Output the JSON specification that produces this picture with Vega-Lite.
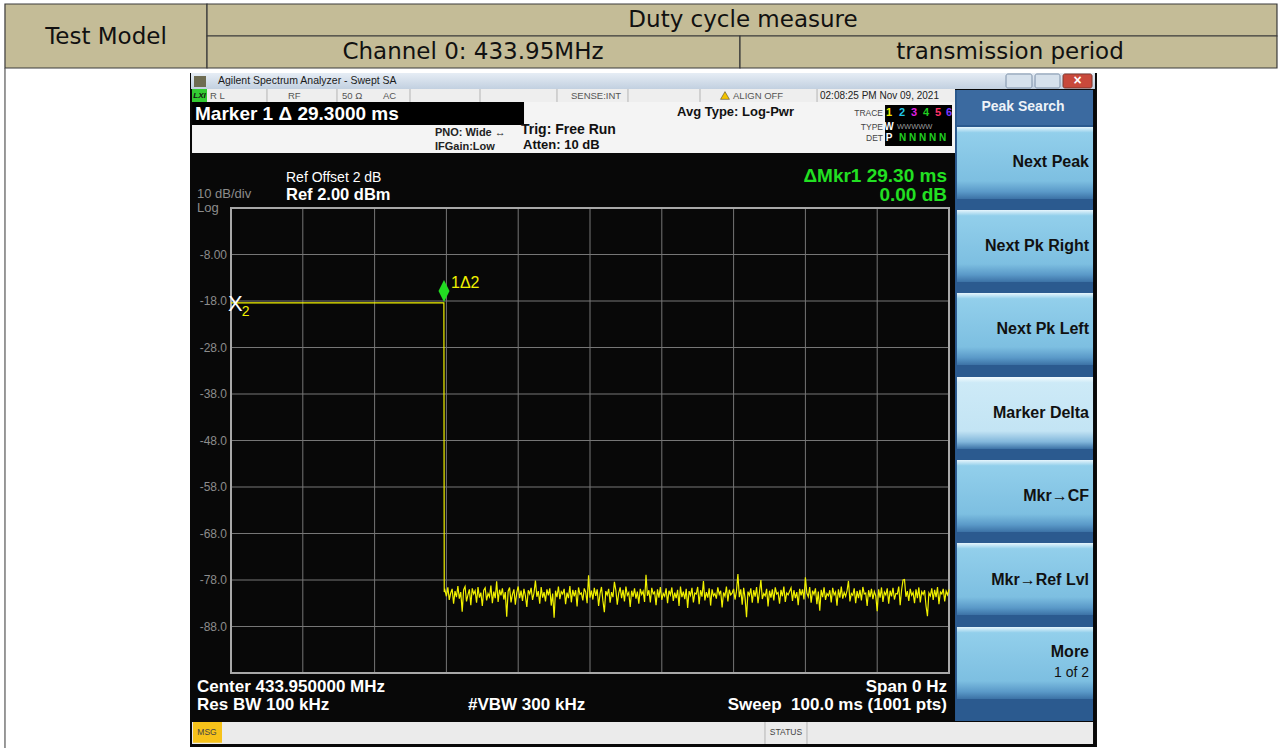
{
"$schema": "https://vega.github.io/schema/vega-lite/v6.json",
"width": 718, "height": 465,
"autosize": {"type": "none"},
"padding": {"left": 231, "top": 208, "right": 331, "bottom": 75},
"background": "#ffffff",
"data": {"values": [{"k": 1}]},
"config": {"view": {"stroke": null}, "text": {"font": "Liberation Sans"}, "axis": {"labelFont": "Liberation Sans"}},
"layer": [
{"mark": {"type": "rect", "fill": "#c4bc97", "stroke": "#3a3a3a", "strokeWidth": 1.2}, "encoding": {"x": {"datum": -31.48, "axis": null}, "x2": {"datum": -3.34}, "y": {"datum": 45.87, "axis": null}, "y2": {"datum": 32.11}}},
{"mark": {"type": "rect", "fill": "#c4bc97", "stroke": "#3a3a3a", "strokeWidth": 1.2}, "encoding": {"x": {"datum": -3.34, "axis": null}, "x2": {"datum": 145.68}, "y": {"datum": 45.87, "axis": null}, "y2": {"datum": 38.99}}},
{"mark": {"type": "rect", "fill": "#c4bc97", "stroke": "#3a3a3a", "strokeWidth": 1.2}, "encoding": {"x": {"datum": -3.34, "axis": null}, "x2": {"datum": 70.89}, "y": {"datum": 38.99, "axis": null}, "y2": {"datum": 32.11}}},
{"mark": {"type": "rect", "fill": "#c4bc97", "stroke": "#3a3a3a", "strokeWidth": 1.2}, "encoding": {"x": {"datum": 70.89, "axis": null}, "x2": {"datum": 145.68}, "y": {"datum": 38.99, "axis": null}, "y2": {"datum": 32.11}}},
{"mark": {"type": "rule", "color": "#555555", "strokeWidth": 1.2}, "encoding": {"x": {"datum": -31.48, "axis": null}, "y": {"datum": 32.11, "axis": null}, "y2": {"datum": -114.13}}},
{"mark": {"type": "text", "text": "Test Model", "font": "DejaVu Sans", "fontSize": 23, "color": "#111111", "align": "center", "baseline": "middle"}, "encoding": {"x": {"datum": -17.41, "axis": null}, "y": {"datum": 38.77, "axis": null}}},
{"mark": {"type": "text", "text": "Duty cycle measure", "font": "DejaVu Sans", "fontSize": 23, "color": "#111111", "align": "center", "baseline": "middle"}, "encoding": {"x": {"datum": 71.31, "axis": null}, "y": {"datum": 42.43, "axis": null}}},
{"mark": {"type": "text", "text": "Channel 0: 433.95MHz", "font": "DejaVu Sans", "fontSize": 23, "color": "#111111", "align": "center", "baseline": "middle"}, "encoding": {"x": {"datum": 33.70, "axis": null}, "y": {"datum": 35.55, "axis": null}}},
{"mark": {"type": "text", "text": "transmission period", "font": "DejaVu Sans", "fontSize": 23, "color": "#111111", "align": "center", "baseline": "middle"}, "encoding": {"x": {"datum": 108.50, "axis": null}, "y": {"datum": 35.55, "axis": null}}},

{"mark": {"type": "rect", "fill": "#080808"}, "encoding": {"x": {"datum": -5.71, "axis": null}, "x2": {"datum": 120.61}, "y": {"datum": 31.03, "axis": null}, "y2": {"datum": -113.91}}},
{"mark": {"type": "rect", "fill": {"gradient": "linear", "x1": 0, "y1": 0, "x2": 0, "y2": 1, "stops": [{"offset": 0, "color": "#e6edf5"}, {"offset": 1, "color": "#c2d0e0"}]}}, "encoding": {"x": {"datum": -5.57, "axis": null}, "x2": {"datum": 120.33}, "y": {"datum": 31.03, "axis": null}, "y2": {"datum": 27.59}}},
{"mark": {"type": "rect", "fill": "#6e6c52"}, "encoding": {"x": {"datum": -5.15, "axis": null}, "x2": {"datum": -3.48}, "y": {"datum": 30.39, "axis": null}, "y2": {"datum": 28.02}}},
{"mark": {"type": "text", "text": "Agilent Spectrum Analyzer - Swept SA", "fontSize": 10.5, "color": "#1a1a1a", "align": "left", "baseline": "middle"}, "encoding": {"x": {"datum": -1.81, "axis": null}, "y": {"datum": 29.31, "axis": null}}},
{"mark": {"type": "rect", "fill": "#d6e1ec", "stroke": "#7d90a8", "cornerRadius": 2}, "encoding": {"x": {"datum": 107.94, "axis": null}, "x2": {"datum": 111.56}, "y": {"datum": 30.82, "axis": null}, "y2": {"datum": 27.81}}},
{"mark": {"type": "rect", "fill": "#d6e1ec", "stroke": "#7d90a8", "cornerRadius": 2}, "encoding": {"x": {"datum": 111.98, "axis": null}, "x2": {"datum": 115.46}, "y": {"datum": 30.82, "axis": null}, "y2": {"datum": 27.81}}},
{"mark": {"type": "rect", "fill": "#c9493b", "stroke": "#7d3a30", "cornerRadius": 2}, "encoding": {"x": {"datum": 115.88, "axis": null}, "x2": {"datum": 119.92}, "y": {"datum": 30.82, "axis": null}, "y2": {"datum": 27.81}}},
{"mark": {"type": "text", "text": "×", "fontSize": 14, "fontWeight": "bold", "color": "#ffffff", "align": "center", "baseline": "middle"}, "encoding": {"x": {"datum": 117.9, "axis": null}, "y": {"datum": 29.3, "axis": null}}},

{"mark": {"type": "rect", "fill": "#eeeeee"}, "encoding": {"x": {"datum": -5.43, "axis": null}, "x2": {"datum": 100.84}, "y": {"datum": 27.59, "axis": null}, "y2": {"datum": 24.80}}},
{"mark": {"type": "rect", "fill": "#33cc33"}, "encoding": {"x": {"datum": -5.43, "axis": null}, "x2": {"datum": -3.34}, "y": {"datum": 27.59, "axis": null}, "y2": {"datum": 24.80}}},
{"mark": {"type": "text", "text": "LXI", "fontSize": 8, "fontWeight": "bold", "fontStyle": "italic", "color": "#111111", "align": "center", "baseline": "middle"}, "encoding": {"x": {"datum": -4.39, "axis": null}, "y": {"datum": 26.09, "axis": null}}},
{"mark": {"type": "rule", "color": "#b4b4b4"}, "encoding": {"x": {"datum": 5.01, "axis": null}, "y": {"datum": 27.59, "axis": null}, "y2": {"datum": 24.80}}},
{"mark": {"type": "rule", "color": "#b4b4b4"}, "encoding": {"x": {"datum": 14.76, "axis": null}, "y": {"datum": 27.59, "axis": null}, "y2": {"datum": 24.80}}},
{"mark": {"type": "rule", "color": "#b4b4b4"}, "encoding": {"x": {"datum": 24.93, "axis": null}, "y": {"datum": 27.59, "axis": null}, "y2": {"datum": 24.80}}},
{"mark": {"type": "rule", "color": "#b4b4b4"}, "encoding": {"x": {"datum": 34.68, "axis": null}, "y": {"datum": 27.59, "axis": null}, "y2": {"datum": 24.80}}},
{"mark": {"type": "rule", "color": "#b4b4b4"}, "encoding": {"x": {"datum": 45.40, "axis": null}, "y": {"datum": 27.59, "axis": null}, "y2": {"datum": 24.80}}},
{"mark": {"type": "rule", "color": "#b4b4b4"}, "encoding": {"x": {"datum": 55.29, "axis": null}, "y": {"datum": 27.59, "axis": null}, "y2": {"datum": 24.80}}},
{"mark": {"type": "rule", "color": "#b4b4b4"}, "encoding": {"x": {"datum": 65.32, "axis": null}, "y": {"datum": 27.59, "axis": null}, "y2": {"datum": 24.80}}},
{"mark": {"type": "rule", "color": "#b4b4b4"}, "encoding": {"x": {"datum": 81.62, "axis": null}, "y": {"datum": 27.59, "axis": null}, "y2": {"datum": 24.80}}},
{"mark": {"type": "text", "text": "R L", "fontSize": 9.5, "color": "#555555", "align": "left", "baseline": "middle"}, "encoding": {"x": {"datum": -2.92, "axis": null}, "y": {"datum": 26.09, "axis": null}}},
{"mark": {"type": "text", "text": "RF", "fontSize": 9.5, "color": "#555555", "align": "left", "baseline": "middle"}, "encoding": {"x": {"datum": 7.94, "axis": null}, "y": {"datum": 26.09, "axis": null}}},
{"mark": {"type": "text", "text": "50 Ω", "fontSize": 9.5, "color": "#555555", "align": "left", "baseline": "middle"}, "encoding": {"x": {"datum": 15.46, "axis": null}, "y": {"datum": 26.09, "axis": null}}},
{"mark": {"type": "text", "text": "AC", "fontSize": 9.5, "color": "#555555", "align": "left", "baseline": "middle"}, "encoding": {"x": {"datum": 21.17, "axis": null}, "y": {"datum": 26.09, "axis": null}}},
{"mark": {"type": "text", "text": "SENSE:INT", "fontSize": 9.5, "color": "#555555", "align": "left", "baseline": "middle"}, "encoding": {"x": {"datum": 47.35, "axis": null}, "y": {"datum": 26.09, "axis": null}}},
{"mark": {"type": "point", "shape": "triangle-up", "filled": true, "color": "#f2c200", "stroke": "#333333", "strokeWidth": 0.5, "size": 80, "opacity": 1}, "encoding": {"x": {"datum": 68.80, "axis": null}, "y": {"datum": 26.2, "axis": null}}},
{"mark": {"type": "text", "text": "ALIGN OFF", "fontSize": 9.5, "color": "#555555", "align": "left", "baseline": "middle"}, "encoding": {"x": {"datum": 69.92, "axis": null}, "y": {"datum": 26.09, "axis": null}}},
{"mark": {"type": "text", "text": "02:08:25 PM Nov 09, 2021", "fontSize": 10, "color": "#222222", "align": "left", "baseline": "middle"}, "encoding": {"x": {"datum": 82.03, "axis": null}, "y": {"datum": 26.09, "axis": null}}},

{"mark": {"type": "rect", "fill": "#f4f4f4"}, "encoding": {"x": {"datum": -5.43, "axis": null}, "x2": {"datum": 100.84}, "y": {"datum": 24.80, "axis": null}, "y2": {"datum": 13.83}}},
{"mark": {"type": "rect", "fill": "#000000"}, "encoding": {"x": {"datum": -5.43, "axis": null}, "x2": {"datum": 40.81}, "y": {"datum": 24.80, "axis": null}, "y2": {"datum": 19.85}}},
{"mark": {"type": "text", "text": "Marker 1 Δ 29.3000 ms", "fontSize": 19, "fontWeight": "bold", "color": "#ffffff", "align": "left", "baseline": "middle"}, "encoding": {"x": {"datum": -5.01, "axis": null}, "y": {"datum": 22.22, "axis": null}}},
{"mark": {"type": "text", "text": "PNO: Wide ↔", "fontSize": 11, "fontWeight": "bold", "color": "#222222", "align": "left", "baseline": "middle"}, "encoding": {"x": {"datum": 28.41, "axis": null}, "y": {"datum": 18.13, "axis": null}}},
{"mark": {"type": "text", "text": "IFGain:Low", "fontSize": 11, "fontWeight": "bold", "color": "#222222", "align": "left", "baseline": "middle"}, "encoding": {"x": {"datum": 28.41, "axis": null}, "y": {"datum": 15.12, "axis": null}}},
{"mark": {"type": "text", "text": "Trig: Free Run", "fontSize": 14, "fontWeight": "bold", "color": "#111111", "align": "left", "baseline": "middle"}, "encoding": {"x": {"datum": 40.39, "axis": null}, "y": {"datum": 18.77, "axis": null}}},
{"mark": {"type": "text", "text": "Atten: 10 dB", "fontSize": 13, "fontWeight": "bold", "color": "#111111", "align": "left", "baseline": "middle"}, "encoding": {"x": {"datum": 40.67, "axis": null}, "y": {"datum": 15.55, "axis": null}}},
{"mark": {"type": "text", "text": "Avg Type: Log-Pwr", "fontSize": 13, "fontWeight": "bold", "color": "#111111", "align": "left", "baseline": "middle"}, "encoding": {"x": {"datum": 62.12, "axis": null}, "y": {"datum": 22.65, "axis": null}}},
{"mark": {"type": "text", "text": "TRACE", "fontSize": 8.5, "color": "#444444", "align": "right", "baseline": "middle"}, "encoding": {"x": {"datum": 90.81, "axis": null}, "y": {"datum": 22.43, "axis": null}}},
{"mark": {"type": "text", "text": "TYPE", "fontSize": 8.5, "color": "#444444", "align": "right", "baseline": "middle"}, "encoding": {"x": {"datum": 90.81, "axis": null}, "y": {"datum": 19.42, "axis": null}}},
{"mark": {"type": "text", "text": "DET", "fontSize": 8.5, "color": "#444444", "align": "right", "baseline": "middle"}, "encoding": {"x": {"datum": 90.81, "axis": null}, "y": {"datum": 17.05, "axis": null}}},
{"mark": {"type": "rect", "fill": "#000000"}, "encoding": {"x": {"datum": 91.09, "axis": null}, "x2": {"datum": 100.42}, "y": {"datum": 24.15, "axis": null}, "y2": {"datum": 15.33}}},
{"mark": {"type": "text", "text": "1", "fontSize": 11, "fontWeight": "bold", "color": "#f0f000", "align": "center", "baseline": "middle"}, "encoding": {"x": {"datum": 91.64, "axis": null}, "y": {"datum": 22.43, "axis": null}}},
{"mark": {"type": "text", "text": "2", "fontSize": 11, "fontWeight": "bold", "color": "#20c8e8", "align": "center", "baseline": "middle"}, "encoding": {"x": {"datum": 93.45, "axis": null}, "y": {"datum": 22.43, "axis": null}}},
{"mark": {"type": "text", "text": "3", "fontSize": 11, "fontWeight": "bold", "color": "#e020e0", "align": "center", "baseline": "middle"}, "encoding": {"x": {"datum": 95.13, "axis": null}, "y": {"datum": 22.43, "axis": null}}},
{"mark": {"type": "text", "text": "4", "fontSize": 11, "fontWeight": "bold", "color": "#20d020", "align": "center", "baseline": "middle"}, "encoding": {"x": {"datum": 96.80, "axis": null}, "y": {"datum": 22.43, "axis": null}}},
{"mark": {"type": "text", "text": "5", "fontSize": 11, "fontWeight": "bold", "color": "#ff3366", "align": "center", "baseline": "middle"}, "encoding": {"x": {"datum": 98.47, "axis": null}, "y": {"datum": 22.43, "axis": null}}},
{"mark": {"type": "text", "text": "6", "fontSize": 11, "fontWeight": "bold", "color": "#7a3cff", "align": "center", "baseline": "middle"}, "encoding": {"x": {"datum": 100.0, "axis": null}, "y": {"datum": 22.43, "axis": null}}},
{"mark": {"type": "text", "text": "W", "fontSize": 10, "fontWeight": "bold", "color": "#ffffff", "align": "center", "baseline": "middle"}, "encoding": {"x": {"datum": 91.64, "axis": null}, "y": {"datum": 19.42, "axis": null}}},
{"mark": {"type": "text", "text": "WWWWW", "fontSize": 7.5, "color": "#9a9a9a", "align": "left", "baseline": "middle"}, "encoding": {"x": {"datum": 92.76, "axis": null}, "y": {"datum": 19.42, "axis": null}}},
{"mark": {"type": "text", "text": "P", "fontSize": 10, "fontWeight": "bold", "color": "#ffffff", "align": "center", "baseline": "middle"}, "encoding": {"x": {"datum": 91.64, "axis": null}, "y": {"datum": 17.05, "axis": null}}},
{"mark": {"type": "text", "text": "N N N N N", "fontSize": 10, "fontWeight": "bold", "color": "#20d020", "align": "left", "baseline": "middle"}, "encoding": {"x": {"datum": 93.04, "axis": null}, "y": {"datum": 17.05, "axis": null}}},

{"mark": {"type": "text", "text": "Ref Offset 2 dB", "fontSize": 14, "color": "#ffffff", "align": "left", "baseline": "middle"}, "encoding": {"x": {"datum": 7.66, "axis": null}, "y": {"datum": 8.45, "axis": null}}},
{"mark": {"type": "text", "text": "Ref 2.00 dBm", "fontSize": 16.5, "fontWeight": "bold", "color": "#ffffff", "align": "left", "baseline": "middle"}, "encoding": {"x": {"datum": 7.66, "axis": null}, "y": {"datum": 4.80, "axis": null}}},
{"mark": {"type": "text", "text": "10 dB/div", "fontSize": 13, "color": "#8c8c8c", "align": "left", "baseline": "middle"}, "encoding": {"x": {"datum": -4.74, "axis": null}, "y": {"datum": 5.01, "axis": null}}},
{"mark": {"type": "text", "text": "Log", "fontSize": 13, "color": "#8c8c8c", "align": "left", "baseline": "middle"}, "encoding": {"x": {"datum": -4.74, "axis": null}, "y": {"datum": 2.0, "axis": null}}},
{"mark": {"type": "text", "text": "ΔMkr1 29.30 ms", "fontSize": 19, "fontWeight": "bold", "color": "#22e022", "align": "right", "baseline": "middle"}, "encoding": {"x": {"datum": 99.72, "axis": null}, "y": {"datum": 8.88, "axis": null}}},
{"mark": {"type": "text", "text": "0.00 dB", "fontSize": 19, "fontWeight": "bold", "color": "#22e022", "align": "right", "baseline": "middle"}, "encoding": {"x": {"datum": 99.72, "axis": null}, "y": {"datum": 4.80, "axis": null}}},
{"mark": {"type": "text", "text": "Center 433.950000 MHz", "fontSize": 17, "fontWeight": "bold", "color": "#ffffff", "align": "left", "baseline": "middle"}, "encoding": {"x": {"datum": -4.74, "axis": null}, "y": {"datum": -101.01, "axis": null}}},
{"mark": {"type": "text", "text": "Res BW 100 kHz", "fontSize": 17, "fontWeight": "bold", "color": "#ffffff", "align": "left", "baseline": "middle"}, "encoding": {"x": {"datum": -4.74, "axis": null}, "y": {"datum": -104.88, "axis": null}}},
{"mark": {"type": "text", "text": "#VBW 300 kHz", "fontSize": 17, "fontWeight": "bold", "color": "#ffffff", "align": "left", "baseline": "middle"}, "encoding": {"x": {"datum": 33.01, "axis": null}, "y": {"datum": -104.88, "axis": null}}},
{"mark": {"type": "text", "text": "Span 0 Hz", "fontSize": 17, "fontWeight": "bold", "color": "#ffffff", "align": "right", "baseline": "middle"}, "encoding": {"x": {"datum": 99.72, "axis": null}, "y": {"datum": -101.01, "axis": null}}},
{"mark": {"type": "text", "text": "Sweep\u00a0\u00a0100.0 ms (1001 pts)", "fontSize": 17, "fontWeight": "bold", "color": "#ffffff", "align": "right", "baseline": "middle"}, "encoding": {"x": {"datum": 99.72, "axis": null}, "y": {"datum": -104.88, "axis": null}}},

{"mark": {"type": "rect", "fill": "#ebebeb"}, "encoding": {"x": {"datum": -5.43, "axis": null}, "x2": {"datum": 120.06}, "y": {"datum": -108.54, "axis": null}, "y2": {"datum": -113.27}}},
{"mark": {"type": "rect", "fill": "#f6c21a"}, "encoding": {"x": {"datum": -5.29, "axis": null}, "x2": {"datum": -1.25}, "y": {"datum": -108.54, "axis": null}, "y2": {"datum": -113.0}}},
{"mark": {"type": "text", "text": "MSG", "fontSize": 8.5, "color": "#444444", "align": "center", "baseline": "middle"}, "encoding": {"x": {"datum": -3.34, "axis": null}, "y": {"datum": -110.69, "axis": null}}},
{"mark": {"type": "rule", "color": "#b4b4b4"}, "encoding": {"x": {"datum": 74.37, "axis": null}, "y": {"datum": -108.54, "axis": null}, "y2": {"datum": -113.27}}},
{"mark": {"type": "rule", "color": "#b4b4b4"}, "encoding": {"x": {"datum": 80.22, "axis": null}, "y": {"datum": -108.54, "axis": null}, "y2": {"datum": -113.27}}},
{"mark": {"type": "text", "text": "STATUS", "fontSize": 8.5, "color": "#444444", "align": "center", "baseline": "middle"}, "encoding": {"x": {"datum": 77.30, "axis": null}, "y": {"datum": -110.69, "axis": null}}},

{"mark": {"type": "rect", "fill": "#2b5a8f"}, "encoding": {"x": {"datum": 100.84, "axis": null}, "x2": {"datum": 120.06}, "y": {"datum": 27.38, "axis": null}, "y2": {"datum": -108.32}}},
{"mark": {"type": "rect", "fill": "#3b6aa0"}, "encoding": {"x": {"datum": 101.11, "axis": null}, "x2": {"datum": 120.06}, "y": {"datum": 27.38, "axis": null}, "y2": {"datum": 19.85}}},
{"mark": {"type": "text", "text": "Peak Search", "fontSize": 14, "fontWeight": "bold", "color": "#eef3f8", "align": "center", "baseline": "middle"}, "encoding": {"x": {"datum": 110.31, "axis": null}, "y": {"datum": 23.72, "axis": null}}},
{"mark": {"type": "rect", "fill": {"gradient": "linear", "x1": 0, "y1": 0, "x2": 0, "y2": 1, "stops": [{"offset": 0, "color": "#e6f5fc"}, {"offset": 0.08, "color": "#92cfeb"}, {"offset": 0.75, "color": "#7dbfe1"}, {"offset": 0.9, "color": "#5a99c8"}, {"offset": 1, "color": "#3c72a6"}]}}, "encoding": {"x": {"datum": 101.11, "axis": null}, "x2": {"datum": 120.06}, "y": {"datum": 19.42, "axis": null}, "y2": {"datum": 3.94}}},
{"mark": {"type": "rect", "fill": {"gradient": "linear", "x1": 0, "y1": 0, "x2": 0, "y2": 1, "stops": [{"offset": 0, "color": "#e6f5fc"}, {"offset": 0.08, "color": "#92cfeb"}, {"offset": 0.75, "color": "#7dbfe1"}, {"offset": 0.9, "color": "#5a99c8"}, {"offset": 1, "color": "#3c72a6"}]}}, "encoding": {"x": {"datum": 101.11, "axis": null}, "x2": {"datum": 120.06}, "y": {"datum": 1.57, "axis": null}, "y2": {"datum": -13.91}}},
{"mark": {"type": "rect", "fill": {"gradient": "linear", "x1": 0, "y1": 0, "x2": 0, "y2": 1, "stops": [{"offset": 0, "color": "#e6f5fc"}, {"offset": 0.08, "color": "#92cfeb"}, {"offset": 0.75, "color": "#7dbfe1"}, {"offset": 0.9, "color": "#5a99c8"}, {"offset": 1, "color": "#3c72a6"}]}}, "encoding": {"x": {"datum": 101.11, "axis": null}, "x2": {"datum": 120.06}, "y": {"datum": -16.28, "axis": null}, "y2": {"datum": -31.76}}},
{"mark": {"type": "rect", "fill": {"gradient": "linear", "x1": 0, "y1": 0, "x2": 0, "y2": 1, "stops": [{"offset": 0, "color": "#f2fafe"}, {"offset": 0.08, "color": "#cdeaf7"}, {"offset": 0.75, "color": "#c3e4f4"}, {"offset": 0.9, "color": "#82b7db"}, {"offset": 1, "color": "#3c72a6"}]}}, "encoding": {"x": {"datum": 101.11, "axis": null}, "x2": {"datum": 120.06}, "y": {"datum": -34.34, "axis": null}, "y2": {"datum": -49.83}}},
{"mark": {"type": "rect", "fill": {"gradient": "linear", "x1": 0, "y1": 0, "x2": 0, "y2": 1, "stops": [{"offset": 0, "color": "#e6f5fc"}, {"offset": 0.08, "color": "#92cfeb"}, {"offset": 0.75, "color": "#7dbfe1"}, {"offset": 0.9, "color": "#5a99c8"}, {"offset": 1, "color": "#3c72a6"}]}}, "encoding": {"x": {"datum": 101.11, "axis": null}, "x2": {"datum": 120.06}, "y": {"datum": -52.19, "axis": null}, "y2": {"datum": -67.68}}},
{"mark": {"type": "rect", "fill": {"gradient": "linear", "x1": 0, "y1": 0, "x2": 0, "y2": 1, "stops": [{"offset": 0, "color": "#e6f5fc"}, {"offset": 0.08, "color": "#92cfeb"}, {"offset": 0.75, "color": "#7dbfe1"}, {"offset": 0.9, "color": "#5a99c8"}, {"offset": 1, "color": "#3c72a6"}]}}, "encoding": {"x": {"datum": 101.11, "axis": null}, "x2": {"datum": 120.06}, "y": {"datum": -70.04, "axis": null}, "y2": {"datum": -85.53}}},
{"mark": {"type": "rect", "fill": {"gradient": "linear", "x1": 0, "y1": 0, "x2": 0, "y2": 1, "stops": [{"offset": 0, "color": "#e6f5fc"}, {"offset": 0.08, "color": "#92cfeb"}, {"offset": 0.75, "color": "#7dbfe1"}, {"offset": 0.9, "color": "#5a99c8"}, {"offset": 1, "color": "#3c72a6"}]}}, "encoding": {"x": {"datum": 101.11, "axis": null}, "x2": {"datum": 120.06}, "y": {"datum": -88.11, "axis": null}, "y2": {"datum": -103.59}}},
{"mark": {"type": "text", "text": "Next Peak", "fontSize": 16, "fontWeight": "bold", "color": "#111111", "align": "right", "baseline": "middle"}, "encoding": {"x": {"datum": 119.5, "axis": null}, "y": {"datum": 11.89, "axis": null}}},
{"mark": {"type": "text", "text": "Next Pk Right", "fontSize": 16, "fontWeight": "bold", "color": "#111111", "align": "right", "baseline": "middle"}, "encoding": {"x": {"datum": 119.5, "axis": null}, "y": {"datum": -6.17, "axis": null}}},
{"mark": {"type": "text", "text": "Next Pk Left", "fontSize": 16, "fontWeight": "bold", "color": "#111111", "align": "right", "baseline": "middle"}, "encoding": {"x": {"datum": 119.5, "axis": null}, "y": {"datum": -24.02, "axis": null}}},
{"mark": {"type": "text", "text": "Marker Delta", "fontSize": 16, "fontWeight": "bold", "color": "#111111", "align": "right", "baseline": "middle"}, "encoding": {"x": {"datum": 119.5, "axis": null}, "y": {"datum": -42.09, "axis": null}}},
{"mark": {"type": "text", "text": "Mkr→CF", "fontSize": 16, "fontWeight": "bold", "color": "#111111", "align": "right", "baseline": "middle"}, "encoding": {"x": {"datum": 119.5, "axis": null}, "y": {"datum": -59.94, "axis": null}}},
{"mark": {"type": "text", "text": "Mkr→Ref Lvl", "fontSize": 16, "fontWeight": "bold", "color": "#111111", "align": "right", "baseline": "middle"}, "encoding": {"x": {"datum": 119.5, "axis": null}, "y": {"datum": -78.0, "axis": null}}},
{"mark": {"type": "text", "text": "More", "fontSize": 16, "fontWeight": "bold", "color": "#111111", "align": "right", "baseline": "middle"}, "encoding": {"x": {"datum": 119.5, "axis": null}, "y": {"datum": -93.48, "axis": null}}},
{"mark": {"type": "text", "text": "1 of 2", "fontSize": 14, "color": "#111111", "align": "right", "baseline": "middle"}, "encoding": {"x": {"datum": 119.5, "axis": null}, "y": {"datum": -98.0, "axis": null}}},

{"data": {"values": [{"g": 10}, {"g": 20}, {"g": 30}, {"g": 40}, {"g": 50}, {"g": 60}, {"g": 70}, {"g": 80}, {"g": 90}]}, "mark": {"type": "rule", "color": "#767676", "strokeWidth": 1}, "encoding": {"x": {"field": "g", "type": "quantitative", "axis": null}}},
{"data": {"values": [{"g": -8}, {"g": -18}, {"g": -28}, {"g": -38}, {"g": -48}, {"g": -58}, {"g": -68}, {"g": -78}, {"g": -88}]}, "mark": {"type": "rule", "color": "#767676", "strokeWidth": 1}, "encoding": {"y": {"field": "g", "type": "quantitative", "axis": null}}},
{"data": {"values": [{"v": -8, "lab": "-8.00"}, {"v": -18, "lab": "-18.0"}, {"v": -28, "lab": "-28.0"}, {"v": -38, "lab": "-38.0"}, {"v": -48, "lab": "-48.0"}, {"v": -58, "lab": "-58.0"}, {"v": -68, "lab": "-68.0"}, {"v": -78, "lab": "-78.0"}, {"v": -88, "lab": "-88.0"}]}, "mark": {"type": "text", "fontSize": 12, "color": "#8c8c8c", "align": "right", "baseline": "middle"}, "encoding": {"x": {"datum": -0.55, "axis": null}, "y": {"field": "v", "type": "quantitative", "axis": null}, "text": {"field": "lab"}}},
{"mark": {"type": "rect", "fill": null, "stroke": "#a8a8a8", "strokeWidth": 2}, "encoding": {"x": {"datum": 0, "axis": null}, "x2": {"datum": 100}, "y": {"datum": 2, "axis": null}, "y2": {"datum": -98}}},
{"data": {"values": [
{"ms": 0, "dbm": -18.4}, {"ms": 29.65, "dbm": -18.4}, {"ms": 29.7, "dbm": -80.6},
{"ms": 29.8, "dbm": -80.2}, {"ms": 30.0, "dbm": -81.5}, {"ms": 30.2, "dbm": -79.6}, {"ms": 30.4, "dbm": -82.3}, {"ms": 30.6, "dbm": -80.8}, {"ms": 30.8, "dbm": -79.9}, {"ms": 31.0, "dbm": -83.1}, {"ms": 31.2, "dbm": -80.4}, {"ms": 31.4, "dbm": -81.7}, {"ms": 31.6, "dbm": -79.3},
{"ms": 31.8, "dbm": -82.0}, {"ms": 32.0, "dbm": -80.6}, {"ms": 32.2, "dbm": -84.8}, {"ms": 32.4, "dbm": -80.1}, {"ms": 32.6, "dbm": -79.4}, {"ms": 32.8, "dbm": -82.6}, {"ms": 33.0, "dbm": -81.2}, {"ms": 33.2, "dbm": -80.0}, {"ms": 33.4, "dbm": -83.4}, {"ms": 33.6, "dbm": -79.8},
{"ms": 33.8, "dbm": -81.0}, {"ms": 34.0, "dbm": -80.3}, {"ms": 34.2, "dbm": -82.9}, {"ms": 34.4, "dbm": -79.5}, {"ms": 34.6, "dbm": -81.8}, {"ms": 34.8, "dbm": -80.7}, {"ms": 35.0, "dbm": -83.6}, {"ms": 35.2, "dbm": -80.2}, {"ms": 35.4, "dbm": -79.7}, {"ms": 35.6, "dbm": -82.4},
{"ms": 35.8, "dbm": -80.9}, {"ms": 36.0, "dbm": -81.6}, {"ms": 36.2, "dbm": -79.2}, {"ms": 36.4, "dbm": -83.0}, {"ms": 36.6, "dbm": -80.5}, {"ms": 36.8, "dbm": -81.9}, {"ms": 37.0, "dbm": -78.3}, {"ms": 37.2, "dbm": -82.7}, {"ms": 37.4, "dbm": -80.1}, {"ms": 37.6, "dbm": -81.3},
{"ms": 37.8, "dbm": -79.8}, {"ms": 38.0, "dbm": -82.2}, {"ms": 38.2, "dbm": -80.6}, {"ms": 38.4, "dbm": -85.9}, {"ms": 38.6, "dbm": -80.4}, {"ms": 38.8, "dbm": -79.6}, {"ms": 39.0, "dbm": -82.8}, {"ms": 39.2, "dbm": -81.1}, {"ms": 39.4, "dbm": -80.0}, {"ms": 39.6, "dbm": -83.3},
{"ms": 39.8, "dbm": -80.7}, {"ms": 40.0, "dbm": -79.4}, {"ms": 40.2, "dbm": -81.9}, {"ms": 40.4, "dbm": -80.3}, {"ms": 40.6, "dbm": -82.5}, {"ms": 40.8, "dbm": -79.9}, {"ms": 41.0, "dbm": -81.4}, {"ms": 41.2, "dbm": -83.8}, {"ms": 41.4, "dbm": -80.2}, {"ms": 41.6, "dbm": -81.0},
{"ms": 41.8, "dbm": -79.7}, {"ms": 42.0, "dbm": -82.3}, {"ms": 42.2, "dbm": -80.8}, {"ms": 42.4, "dbm": -78.1}, {"ms": 42.6, "dbm": -81.6}, {"ms": 42.8, "dbm": -80.4}, {"ms": 43.0, "dbm": -83.1}, {"ms": 43.2, "dbm": -79.5}, {"ms": 43.4, "dbm": -81.8}, {"ms": 43.6, "dbm": -80.6},
{"ms": 43.8, "dbm": -82.6}, {"ms": 44.0, "dbm": -80.0}, {"ms": 44.2, "dbm": -81.3}, {"ms": 44.4, "dbm": -79.8}, {"ms": 44.6, "dbm": -83.5}, {"ms": 44.8, "dbm": -80.9}, {"ms": 45.0, "dbm": -86.1}, {"ms": 45.2, "dbm": -80.3}, {"ms": 45.4, "dbm": -81.7}, {"ms": 45.6, "dbm": -79.4},
{"ms": 45.8, "dbm": -82.1}, {"ms": 46.0, "dbm": -80.5}, {"ms": 46.2, "dbm": -81.0}, {"ms": 46.4, "dbm": -79.9}, {"ms": 46.6, "dbm": -83.2}, {"ms": 46.8, "dbm": -80.7}, {"ms": 47.0, "dbm": -81.9}, {"ms": 47.2, "dbm": -79.3}, {"ms": 47.4, "dbm": -82.8}, {"ms": 47.6, "dbm": -80.1},
{"ms": 47.8, "dbm": -81.5}, {"ms": 48.0, "dbm": -80.2}, {"ms": 48.2, "dbm": -83.7}, {"ms": 48.4, "dbm": -79.6}, {"ms": 48.6, "dbm": -81.1}, {"ms": 48.8, "dbm": -80.8}, {"ms": 49.0, "dbm": -82.4}, {"ms": 49.2, "dbm": -79.8}, {"ms": 49.4, "dbm": -80.6}, {"ms": 49.6, "dbm": -83.0},
{"ms": 49.8, "dbm": -77.0}, {"ms": 50.0, "dbm": -81.8}, {"ms": 50.2, "dbm": -80.3}, {"ms": 50.4, "dbm": -82.2}, {"ms": 50.6, "dbm": -79.7}, {"ms": 50.8, "dbm": -81.4}, {"ms": 51.0, "dbm": -80.0}, {"ms": 51.2, "dbm": -83.6}, {"ms": 51.4, "dbm": -80.9}, {"ms": 51.6, "dbm": -79.5},
{"ms": 51.8, "dbm": -82.5}, {"ms": 52.0, "dbm": -84.9}, {"ms": 52.2, "dbm": -80.4}, {"ms": 52.4, "dbm": -81.2}, {"ms": 52.6, "dbm": -79.9}, {"ms": 52.8, "dbm": -82.9}, {"ms": 53.0, "dbm": -80.6}, {"ms": 53.2, "dbm": -81.7}, {"ms": 53.4, "dbm": -78.4}, {"ms": 53.6, "dbm": -80.2},
{"ms": 53.8, "dbm": -83.3}, {"ms": 54.0, "dbm": -80.8}, {"ms": 54.2, "dbm": -79.6}, {"ms": 54.4, "dbm": -81.9}, {"ms": 54.6, "dbm": -80.1}, {"ms": 54.8, "dbm": -82.6}, {"ms": 55.0, "dbm": -79.4}, {"ms": 55.2, "dbm": -81.3}, {"ms": 55.4, "dbm": -80.7}, {"ms": 55.6, "dbm": -83.8},
{"ms": 55.8, "dbm": -80.3}, {"ms": 56.0, "dbm": -81.6}, {"ms": 56.2, "dbm": -79.8}, {"ms": 56.4, "dbm": -82.0}, {"ms": 56.6, "dbm": -80.5}, {"ms": 56.8, "dbm": -83.1}, {"ms": 57.0, "dbm": -79.9}, {"ms": 57.2, "dbm": -81.1}, {"ms": 57.4, "dbm": -80.4}, {"ms": 57.6, "dbm": -82.7},
{"ms": 57.8, "dbm": -76.9}, {"ms": 58.0, "dbm": -81.4}, {"ms": 58.2, "dbm": -80.2}, {"ms": 58.4, "dbm": -82.8}, {"ms": 58.6, "dbm": -79.7}, {"ms": 58.8, "dbm": -81.0}, {"ms": 59.0, "dbm": -80.6}, {"ms": 59.2, "dbm": -83.4}, {"ms": 59.4, "dbm": -80.0}, {"ms": 59.6, "dbm": -81.8},
{"ms": 59.8, "dbm": -79.5}, {"ms": 60.0, "dbm": -82.3}, {"ms": 60.2, "dbm": -80.9}, {"ms": 60.4, "dbm": -81.5}, {"ms": 60.6, "dbm": -79.8}, {"ms": 60.8, "dbm": -83.0}, {"ms": 61.0, "dbm": -80.3}, {"ms": 61.2, "dbm": -81.2}, {"ms": 61.4, "dbm": -79.6}, {"ms": 61.6, "dbm": -82.5},
{"ms": 61.8, "dbm": -80.7}, {"ms": 62.0, "dbm": -81.9}, {"ms": 62.2, "dbm": -80.1}, {"ms": 62.4, "dbm": -83.6}, {"ms": 62.6, "dbm": -79.4}, {"ms": 62.8, "dbm": -81.7}, {"ms": 63.0, "dbm": -80.5}, {"ms": 63.2, "dbm": -82.1}, {"ms": 63.4, "dbm": -79.9}, {"ms": 63.6, "dbm": -84.0},
{"ms": 63.8, "dbm": -80.4}, {"ms": 64.0, "dbm": -81.3}, {"ms": 64.2, "dbm": -79.7}, {"ms": 64.4, "dbm": -82.8}, {"ms": 64.6, "dbm": -80.8}, {"ms": 64.8, "dbm": -81.0}, {"ms": 65.0, "dbm": -79.5}, {"ms": 65.2, "dbm": -83.2}, {"ms": 65.4, "dbm": -80.2}, {"ms": 65.6, "dbm": -81.6},
{"ms": 65.8, "dbm": -78.2}, {"ms": 66.0, "dbm": -82.4}, {"ms": 66.2, "dbm": -80.6}, {"ms": 66.4, "dbm": -81.8}, {"ms": 66.6, "dbm": -79.8}, {"ms": 66.8, "dbm": -83.5}, {"ms": 67.0, "dbm": -80.0}, {"ms": 67.2, "dbm": -81.4}, {"ms": 67.4, "dbm": -80.9}, {"ms": 67.6, "dbm": -82.0},
{"ms": 67.8, "dbm": -79.6}, {"ms": 68.0, "dbm": -81.1}, {"ms": 68.2, "dbm": -80.3}, {"ms": 68.4, "dbm": -83.9}, {"ms": 68.6, "dbm": -80.7}, {"ms": 68.8, "dbm": -81.5}, {"ms": 69.0, "dbm": -79.4}, {"ms": 69.2, "dbm": -82.6}, {"ms": 69.4, "dbm": -80.1}, {"ms": 69.6, "dbm": -81.2},
{"ms": 69.8, "dbm": -80.8}, {"ms": 70.0, "dbm": -79.9}, {"ms": 70.2, "dbm": -82.2}, {"ms": 70.4, "dbm": -80.4}, {"ms": 70.6, "dbm": -76.7}, {"ms": 70.8, "dbm": -81.7}, {"ms": 71.0, "dbm": -80.0}, {"ms": 71.2, "dbm": -83.3}, {"ms": 71.4, "dbm": -79.7}, {"ms": 71.6, "dbm": -81.9},
{"ms": 71.8, "dbm": -86.0}, {"ms": 72.0, "dbm": -80.5}, {"ms": 72.2, "dbm": -81.3}, {"ms": 72.4, "dbm": -79.8}, {"ms": 72.6, "dbm": -82.9}, {"ms": 72.8, "dbm": -80.2}, {"ms": 73.0, "dbm": -81.6}, {"ms": 73.2, "dbm": -79.5}, {"ms": 73.4, "dbm": -83.0}, {"ms": 73.6, "dbm": -80.6},
{"ms": 73.8, "dbm": -78.0}, {"ms": 74.0, "dbm": -82.1}, {"ms": 74.2, "dbm": -80.9}, {"ms": 74.4, "dbm": -81.4}, {"ms": 74.6, "dbm": -79.9}, {"ms": 74.8, "dbm": -83.7}, {"ms": 75.0, "dbm": -80.3}, {"ms": 75.2, "dbm": -81.8}, {"ms": 75.4, "dbm": -80.0}, {"ms": 75.6, "dbm": -82.4},
{"ms": 75.8, "dbm": -79.6}, {"ms": 76.0, "dbm": -81.0}, {"ms": 76.2, "dbm": -80.7}, {"ms": 76.4, "dbm": -83.1}, {"ms": 76.6, "dbm": -80.1}, {"ms": 76.8, "dbm": -81.5}, {"ms": 77.0, "dbm": -79.4}, {"ms": 77.2, "dbm": -82.7}, {"ms": 77.4, "dbm": -80.8}, {"ms": 77.6, "dbm": -81.2},
{"ms": 77.8, "dbm": -80.4}, {"ms": 78.0, "dbm": -79.7}, {"ms": 78.2, "dbm": -82.5}, {"ms": 78.4, "dbm": -80.2}, {"ms": 78.6, "dbm": -81.9}, {"ms": 78.8, "dbm": -80.6}, {"ms": 79.0, "dbm": -83.4}, {"ms": 79.2, "dbm": -79.9}, {"ms": 79.4, "dbm": -81.3}, {"ms": 79.6, "dbm": -80.0},
{"ms": 79.8, "dbm": -82.2}, {"ms": 80.0, "dbm": -77.4}, {"ms": 80.2, "dbm": -80.8}, {"ms": 80.4, "dbm": -81.6}, {"ms": 80.6, "dbm": -79.5}, {"ms": 80.8, "dbm": -82.9}, {"ms": 81.0, "dbm": -80.3}, {"ms": 81.2, "dbm": -81.1}, {"ms": 81.4, "dbm": -79.8}, {"ms": 81.6, "dbm": -83.2},
{"ms": 81.8, "dbm": -80.5}, {"ms": 82.0, "dbm": -84.6}, {"ms": 82.2, "dbm": -80.1}, {"ms": 82.4, "dbm": -81.7}, {"ms": 82.6, "dbm": -79.6}, {"ms": 82.8, "dbm": -82.3}, {"ms": 83.0, "dbm": -80.9}, {"ms": 83.2, "dbm": -81.4}, {"ms": 83.4, "dbm": -80.2}, {"ms": 83.6, "dbm": -82.8},
{"ms": 83.8, "dbm": -79.7}, {"ms": 84.0, "dbm": -81.2}, {"ms": 84.2, "dbm": -80.6}, {"ms": 84.4, "dbm": -83.5}, {"ms": 84.6, "dbm": -80.0}, {"ms": 84.8, "dbm": -81.8}, {"ms": 85.0, "dbm": -79.4}, {"ms": 85.2, "dbm": -82.0}, {"ms": 85.4, "dbm": -80.7}, {"ms": 85.6, "dbm": -81.5},
{"ms": 85.8, "dbm": -80.3}, {"ms": 86.0, "dbm": -78.2}, {"ms": 86.2, "dbm": -82.6}, {"ms": 86.4, "dbm": -80.9}, {"ms": 86.6, "dbm": -81.3}, {"ms": 86.8, "dbm": -79.8}, {"ms": 87.0, "dbm": -83.0}, {"ms": 87.2, "dbm": -80.4}, {"ms": 87.4, "dbm": -81.9}, {"ms": 87.6, "dbm": -80.1},
{"ms": 87.8, "dbm": -82.4}, {"ms": 88.0, "dbm": -79.5}, {"ms": 88.2, "dbm": -81.0}, {"ms": 88.4, "dbm": -80.8}, {"ms": 88.6, "dbm": -83.6}, {"ms": 88.8, "dbm": -80.2}, {"ms": 89.0, "dbm": -81.7}, {"ms": 89.2, "dbm": -79.9}, {"ms": 89.4, "dbm": -82.1}, {"ms": 89.6, "dbm": -80.5},
{"ms": 89.8, "dbm": -81.4}, {"ms": 90.0, "dbm": -84.7}, {"ms": 90.2, "dbm": -80.0}, {"ms": 90.4, "dbm": -81.8}, {"ms": 90.6, "dbm": -79.6}, {"ms": 90.8, "dbm": -82.7}, {"ms": 91.0, "dbm": -80.6}, {"ms": 91.2, "dbm": -81.2}, {"ms": 91.4, "dbm": -79.8}, {"ms": 91.6, "dbm": -83.1},
{"ms": 91.8, "dbm": -80.3}, {"ms": 92.0, "dbm": -81.5}, {"ms": 92.2, "dbm": -79.7}, {"ms": 92.4, "dbm": -82.2}, {"ms": 92.6, "dbm": -80.9}, {"ms": 92.8, "dbm": -81.0}, {"ms": 93.0, "dbm": -79.4}, {"ms": 93.2, "dbm": -83.4}, {"ms": 93.4, "dbm": -80.1}, {"ms": 93.6, "dbm": -78.0},
{"ms": 93.8, "dbm": -77.9}, {"ms": 94.0, "dbm": -81.6}, {"ms": 94.2, "dbm": -80.4}, {"ms": 94.4, "dbm": -82.5}, {"ms": 94.6, "dbm": -79.9}, {"ms": 94.8, "dbm": -81.3}, {"ms": 95.0, "dbm": -80.7}, {"ms": 95.2, "dbm": -83.0}, {"ms": 95.4, "dbm": -80.0}, {"ms": 95.6, "dbm": -81.9},
{"ms": 95.8, "dbm": -79.6}, {"ms": 96.0, "dbm": -82.8}, {"ms": 96.2, "dbm": -80.5}, {"ms": 96.4, "dbm": -81.1}, {"ms": 96.6, "dbm": -80.2}, {"ms": 96.8, "dbm": -83.6}, {"ms": 97.0, "dbm": -85.8}, {"ms": 97.2, "dbm": -80.8}, {"ms": 97.4, "dbm": -81.4}, {"ms": 97.6, "dbm": -79.8},
{"ms": 97.8, "dbm": -82.3}, {"ms": 98.0, "dbm": -80.1}, {"ms": 98.2, "dbm": -81.7}, {"ms": 98.4, "dbm": -79.5}, {"ms": 98.6, "dbm": -83.2}, {"ms": 98.8, "dbm": -80.6}, {"ms": 99.0, "dbm": -81.0}, {"ms": 99.2, "dbm": -79.9}, {"ms": 99.4, "dbm": -82.6}, {"ms": 99.6, "dbm": -80.4},
{"ms": 99.8, "dbm": -81.2}, {"ms": 100.0, "dbm": -80.0}
]},
"mark": {"type": "line", "color": "#f2f200", "strokeWidth": 1.2},
"encoding": {
"x": {"field": "ms", "type": "quantitative", "scale": {"domain": [0, 100], "nice": false, "zero": false}, "axis": null},
"y": {"field": "dbm", "type": "quantitative", "scale": {"domain": [-98, 2], "nice": false, "zero": false}, "axis": null}
}},
{"mark": {"type": "text", "text": "X", "fontSize": 22, "color": "#ffffff", "align": "center", "baseline": "middle"}, "encoding": {"x": {"datum": 0.62, "axis": null}, "y": {"datum": -18.65, "axis": null}}},
{"mark": {"type": "text", "text": "2", "fontSize": 14, "color": "#f0f000", "align": "center", "baseline": "middle"}, "encoding": {"x": {"datum": 2.05, "axis": null}, "y": {"datum": -20.37, "axis": null}}},
{"mark": {"type": "point", "shape": "M0,-1L0.5,0L0,1L-0.5,0Z", "filled": true, "color": "#22dd22", "size": 484, "opacity": 1}, "encoding": {"x": {"datum": 29.67, "axis": null}, "y": {"datum": -15.85, "axis": null}}},
{"mark": {"type": "text", "text": "1Δ2", "fontSize": 16, "color": "#f0f000", "align": "left", "baseline": "middle"}, "encoding": {"x": {"datum": 30.64, "axis": null}, "y": {"datum": -14.13, "axis": null}}}
]
}
